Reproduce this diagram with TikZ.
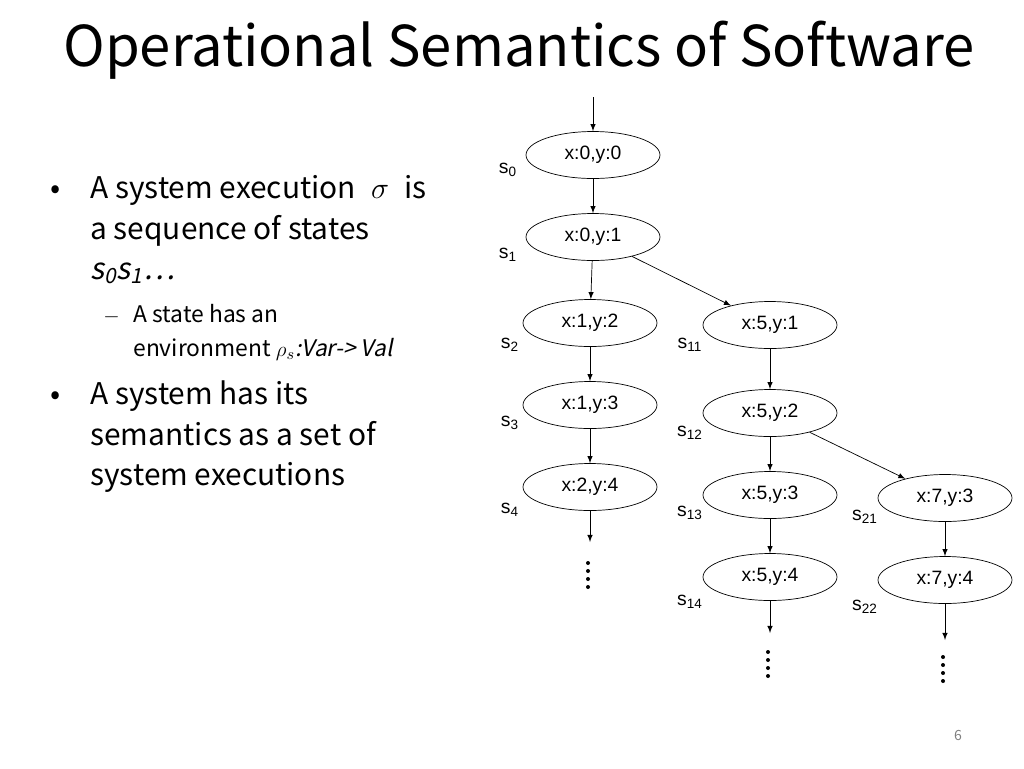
\documentclass[tikz,border=0pt]{standalone}
\usepackage{fontspec}
\setmainfont{Noto Sans CJK KR}[AutoFakeSlant=0.2]
\newfontfamily\diagfont{Liberation Sans}
\usetikzlibrary{shapes.geometric}
\tikzset{
  st/.style={draw,ellipse,minimum width=2.68cm,minimum height=0.94cm,inner sep=0pt,font=\diagfont\fontsize{11}{12}\selectfont},
  lbl/.style={font=\diagfont\fontsize{11}{12}\selectfont},
  ln/.style={anchor=base west,font=\fontsize{17}{20}\selectfont,inner sep=0pt},
  sub/.style={anchor=base west,font=\fontsize{13}{15}\selectfont,inner sep=0pt},
  arr/.style={-latex,thin}
}
\begin{document}
\begin{tikzpicture}[x=0.02cm,y=-0.02cm]
	\useasboundingbox (0,0) rectangle (1024,768);
	% title and text
	\node[anchor=west,inner sep=0pt,font=\fontsize{32}{36}\selectfont] (title) at (63,50) {Operational Semantics of Software};
	\node[ln] (b1) at (50,198) {•};
	\node[ln] (t1) at (90,198) {A system execution \;$\sigma$\; is};
	\node[ln] (t2) at (90,239) {a sequence of states};
	\node[ln] (t3) at (90,279) {\itshape s\textsubscript{0}s\textsubscript{1}…};
	\node[sub] (d1) at (103,322) {$-$};
	\node[sub] (t4) at (133,322) {A state has an};
	\node[sub] (t5) at (133,356) {environment $\rho_s$\itshape :Var-> Val};
	\node[ln] (b2) at (50,404) {•};
	\node[ln] (t6) at (90,404) {A system has its};
	\node[ln] (t7) at (90,445) {semantics as a set of};
	\node[ln] (t8) at (90,485) {system executions};
	% states
	\node[st] (s0) at (593,155) {x:0,y:0};
	\node[st] (s1) at (593,237) {x:0,y:1};
	\node[st] (s2) at (590,323) {x:1,y:2};
	\node[st] (s3) at (590,405) {x:1,y:3};
	\node[st] (s4) at (590,487) {x:2,y:4};
	\node[st] (s11) at (770,325) {x:5,y:1};
	\node[st] (s12) at (770,413) {x:5,y:2};
	\node[st] (s13) at (770,495) {x:5,y:3};
	\node[st] (s14) at (770,577) {x:5,y:4};
	\node[st] (s21) at (945,498) {x:7,y:3};
	\node[st] (s22) at (945,580) {x:7,y:4};
	% state names
	\node[lbl] (l0) at (508,170) {s\textsubscript{0}};
	\node[lbl] (l1) at (508,255) {s\textsubscript{1}};
	\node[lbl] (l2) at (510,345) {s\textsubscript{2}};
	\node[lbl] (l3) at (510,423) {s\textsubscript{3}};
	\node[lbl] (l4) at (510,510) {s\textsubscript{4}};
	\node[lbl] (l11) at (690,345) {s\textsubscript{11}};
	\node[lbl] (l12) at (690,433) {s\textsubscript{12}};
	\node[lbl] (l13) at (690,513) {s\textsubscript{13}};
	\node[lbl] (l14) at (690,602) {s\textsubscript{14}};
	\node[lbl] (l21) at (865,517) {s\textsubscript{21}};
	\node[lbl] (l22) at (865,607) {s\textsubscript{22}};
	% transitions
	\coordinate (init) at (593,97);
	\coordinate (e4) at (590,542);
	\coordinate (e14) at (770,633);
	\coordinate (e22) at (945,640);
	\draw[arr] (init) -- (s0);
	\draw[arr] (s0) -- (s1);
	\draw[arr] (s1) -- (s2);
	\draw[arr] (s1) -- (s11);
	\draw[arr] (s2) -- (s3);
	\draw[arr] (s3) -- (s4);
	\draw[arr] (s4) -- (e4);
	\draw[arr] (s11) -- (s12);
	\draw[arr] (s12) -- (s13);
	\draw[arr] (s12) -- (s21);
	\draw[arr] (s13) -- (s14);
	\draw[arr] (s14) -- (e14);
	\draw[arr] (s21) -- (s22);
	\draw[arr] (s22) -- (e22);
	% continuation dots
	\foreach \x/\y in {588/563, 768/652, 943/657}
		\foreach \k in {0,...,3}
			\fill (\x,\y+8*\k) circle (2);
	\node[font=\fontsize{8}{9}\selectfont,text=gray] (pg) at (958,735) {6};
\end{tikzpicture}
\end{document}
